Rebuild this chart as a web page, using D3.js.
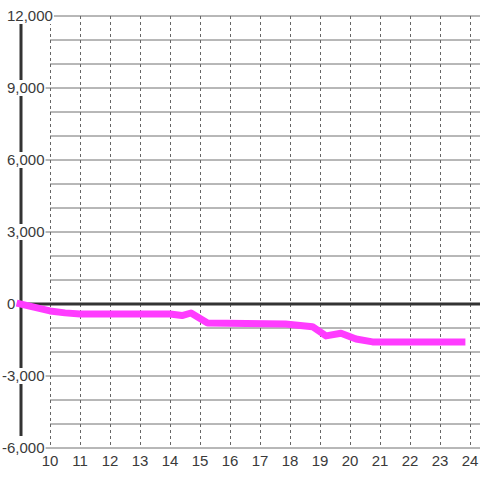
<!DOCTYPE html>
<html>
<head>
<meta charset="utf-8">
<script src="https://cdn.jsdelivr.net/npm/d3@7"></script>
<style>
  body { margin: 0; background: #fff; }
  text { font-family: "Liberation Sans", Arial, sans-serif; }
</style>
</head>
<body>
<div id="chart"></div>
<script>
// Series: hour of day and running value
const hours  = [9.0, 10.0, 10.5, 11.0, 14.0, 14.4, 14.7, 15.25, 17.85, 18.75, 19.2, 19.7, 20.2, 20.75, 23.73];
const values = [0, -290, -370, -415, -415, -480, -375, -790, -830, -945, -1330, -1220, -1460, -1580, -1580];

const xTicks = [10, 11, 12, 13, 14, 15, 16, 17, 18, 19, 20, 21, 22, 23, 24];
const yLabelTicks = [12000, 9000, 6000, 3000, 0, -3000, -6000];
const yGridTicks = d3.range(-6000, 12001, 1000);

const width = 480, height = 480;

const svg = d3.select('#chart')
    .append('svg')
    .attr('width', width)
    .attr('height', height);

svg.append('rect')
    .attr('width', width)
    .attr('height', height)
    .attr('fill', '#fff');

const x = d3.scaleLinear().domain([9, 24 + 1 / 3]).range([20, 480]);
const y = d3.scaleLinear().domain([-6000, 12000]).range([448, 16]);

// horizontal grid
yGridTicks.forEach(function(v) {
    const labelled = yLabelTicks.indexOf(v) >= 0;
    svg.append('line')
        .attr('x1', labelled ? 44 : 50)
        .attr('x2', 480)
        .attr('y1', y(v))
        .attr('y2', y(v))
        .attr('stroke', '#707070')
        .attr('stroke-width', 1);
});

// vertical dotted grid
xTicks.forEach(function(h) {
    svg.append('line')
        .attr('x1', x(h) + 0.5)
        .attr('x2', x(h) + 0.5)
        .attr('y1', y(12000))
        .attr('y2', y(-6000))
        .attr('stroke', '#666')
        .attr('stroke-width', 1)
        .attr('stroke-dasharray', '3,3');
});

// y axis line
svg.append('line')
    .attr('x1', 21)
    .attr('x2', 21)
    .attr('y1', 24)
    .attr('y2', 436)
    .attr('stroke', '#333')
    .attr('stroke-width', 3);

// zero line
svg.append('line')
    .attr('x1', 20)
    .attr('x2', 480)
    .attr('y1', y(0))
    .attr('y2', y(0))
    .attr('stroke', '#333')
    .attr('stroke-width', 3);

// y labels with white backgrounds
const fmt = d3.format(',');
yLabelTicks.forEach(function(v) {
    const g = svg.append('g');
    const bg = g.append('rect').attr('fill', '#fff');
    const t = g.append('text')
        .attr('x', v < 0 ? 2 : 7)
        .attr('y', y(v))
        .attr('dy', '0.35em')
        .attr('font-size', '15px')
        .attr('fill', '#3a3a3a')
        .text(fmt(v).replace('−', '-'));
    const b = t.node().getBBox();
    bg.attr('x', b.x - 1)
        .attr('y', y(v) - 8)
        .attr('width', b.width + 2)
        .attr('height', 16);
});

// x labels
xTicks.forEach(function(h) {
    svg.append('text')
        .attr('x', x(h))
        .attr('y', 461)
        .attr('dy', '0.35em')
        .attr('text-anchor', 'middle')
        .attr('font-size', '15px')
        .attr('fill', '#3a3a3a')
        .text(h);
});

// series line
const pts = hours.map(function(h, i) { return [h, values[i]]; });
const line = d3.line()
    .x(function(d) { return x(d[0]); })
    .y(function(d) { return y(d[1]); });

svg.append('path')
    .datum(pts)
    .attr('d', line)
    .attr('fill', 'none')
    .attr('stroke', '#ff3cff')
    .attr('stroke-width', 7)
    .attr('stroke-linejoin', 'round')
    .attr('stroke-linecap', 'square');
</script>
</body>
</html>
